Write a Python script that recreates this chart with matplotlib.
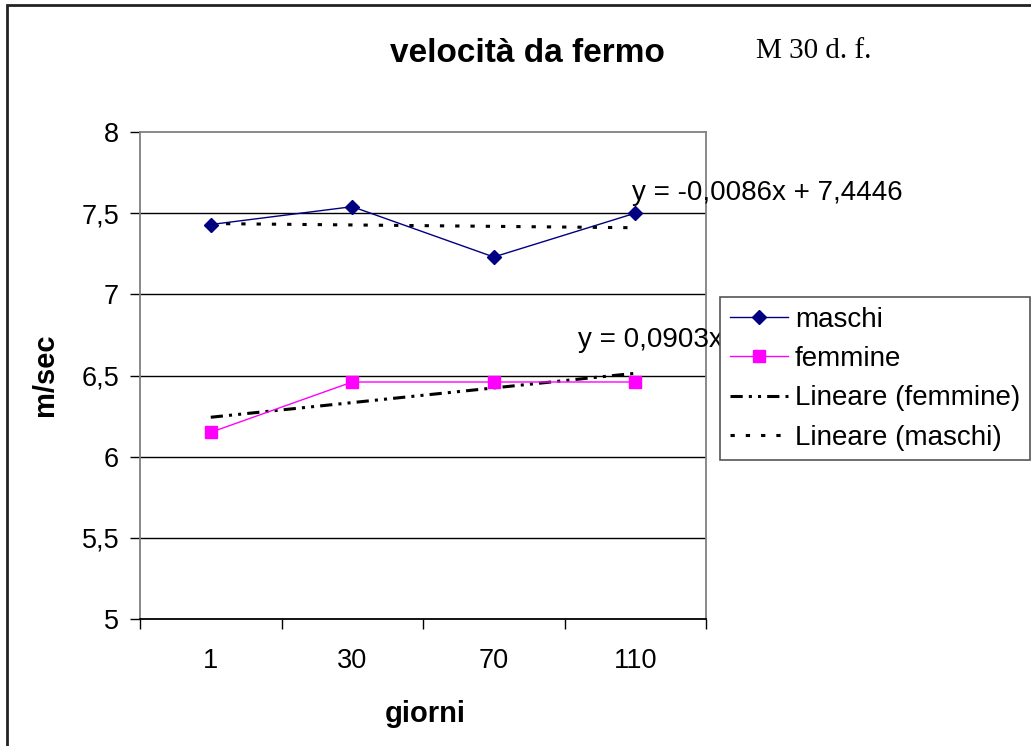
import matplotlib
matplotlib.use("Agg")
import matplotlib.pyplot as plt
from matplotlib.patches import Rectangle
from matplotlib.lines import Line2D
import numpy as np

# ---- data ----
giorni = ["1", "30", "70", "110"]
maschi = [7.43, 7.54, 7.23, 7.50]
femmine = [6.15, 6.46, 6.46, 6.46]
trend_maschi = (-0.0086, 7.4446)   # slope, intercept (x = 1..n)
trend_femmine = (0.0903, 6.1525)
eq_maschi = "y = -0,0086x + 7,4446"
eq_femmine = "y = 0,0903x + 6,1525"
yticks = [5, 5.5, 6, 6.5, 7, 7.5, 8]
ytick_labels = ["5", "5,5", "6", "6,5", "7", "7,5", "8"]

W, H = 1031, 746
fig = plt.figure(figsize=(W / 100, H / 100), dpi=100)
fig.patch.set_facecolor("white")

def fx(px):
    return px / W

def fy(py):
    return 1 - py / H

ax = fig.add_axes([fx(140), fy(619), fx(706) - fx(140), fy(132) - fy(619)])
x = np.arange(len(giorni))
xn = x + 1

SANS = "Liberation Sans"
FS = 20

# gridlines
for v in yticks[1:-1]:
    ax.axhline(v, color="black", lw=1.0, zorder=1)

# series
ax.plot(x, maschi, color="#000080", lw=1.0, marker="D", markersize=7,
        markerfacecolor="#000080", markeredgecolor="#000080", zorder=4, label="maschi")
ax.plot(x, femmine, color="#FF00FF", lw=1.0, marker="s", markersize=8,
        markerfacecolor="#FF00FF", markeredgecolor="#FF00FF", zorder=4, label="femmine")

tf = trend_femmine[0] * xn + trend_femmine[1]
tm = trend_maschi[0] * xn + trend_maschi[1]
l3, = ax.plot(x, tf, color="black", lw=2.2, linestyle=(0, (4, 2, 1, 2, 1, 2)),
              dash_capstyle="butt", zorder=3, label="Lineare (femmine)")
l4, = ax.plot(x, tm, color="black", lw=2.2, linestyle=(0, (1.4, 3.6)),
              dash_capstyle="butt", zorder=3, label="Lineare (maschi)")

ax.set_xlim(-0.5, len(giorni) - 0.5)
ax.set_ylim(5, 8)

# ticks
ax.set_xticks(np.arange(-0.5, len(giorni), 1.0))
ax.set_xticklabels([])
ax.set_xticks(x, minor=True)
ax.set_xticklabels(giorni, minor=True, fontsize=19.5, family=SANS)
ax.tick_params(axis="x", which="major", direction="out", length=7, width=1, color="black")
ax.tick_params(axis="x", which="minor", length=0, pad=21)
ax.set_yticks(yticks)
ax.set_yticklabels(ytick_labels, fontsize=19.5, family=SANS)
ax.tick_params(axis="y", direction="out", length=7, width=1, pad=8, color="black")

for s in ["left", "top", "right"]:
    ax.spines[s].set_color("#808080")
    ax.spines[s].set_linewidth(1.3)
ax.spines["bottom"].set_color("black")
ax.spines["bottom"].set_linewidth(1.3)

# equations
ax.text(2.977, 7.624, eq_maschi, fontsize=FS, family=SANS, va="center", ha="left",
        clip_on=False, zorder=5)
ax.text(2.595, 6.718, eq_femmine, fontsize=FS, family=SANS, va="center", ha="left",
        clip_on=False, zorder=5)

# titles
fig.text(fx(527), fy(54), "velocità da fermo", fontsize=24, fontweight="bold",
         family=SANS, ha="center", va="center")
fig.text(fx(756), fy(51), "M 30 d. f.", fontsize=21, family="Liberation Serif",
         ha="left", va="center")
fig.text(fx(45), fy(375), "m/sec", fontsize=21, fontweight="bold", family=SANS,
         rotation=90, ha="center", va="center")
fig.text(fx(425), fy(714), "giorni", fontsize=21, fontweight="bold", family=SANS,
         ha="center", va="center")

# legend
handles = [Line2D([], [], color="#000080", lw=1.0, marker="D", markersize=7),
           Line2D([], [], color="#FF00FF", lw=1.0, marker="s", markersize=8),
           l3, l4]
labels = ["maschi", "femmine", "Lineare (femmine)", "Lineare (maschi)"]
leg = fig.legend(handles, labels, loc="upper left", bbox_to_anchor=(fx(720), fy(297)),
                 bbox_transform=fig.transFigure, borderaxespad=0, frameon=True,
                 fancybox=False, framealpha=1, edgecolor="#555555",
                 prop={"family": SANS, "size": FS}, handlelength=2.1,
                 handletextpad=0.25, labelspacing=0.48, borderpad=0.35)
leg.get_frame().set_linewidth(1.2)
leg.set_zorder(10)

# outer chart border
fig.patches.append(Rectangle((fx(7), -0.05), 1.2, fy(5) + 0.05, transform=fig.transFigure,
                             fill=False, edgecolor="#222222", lw=2.0, zorder=20))

fig.savefig("out.png", dpi=100)
